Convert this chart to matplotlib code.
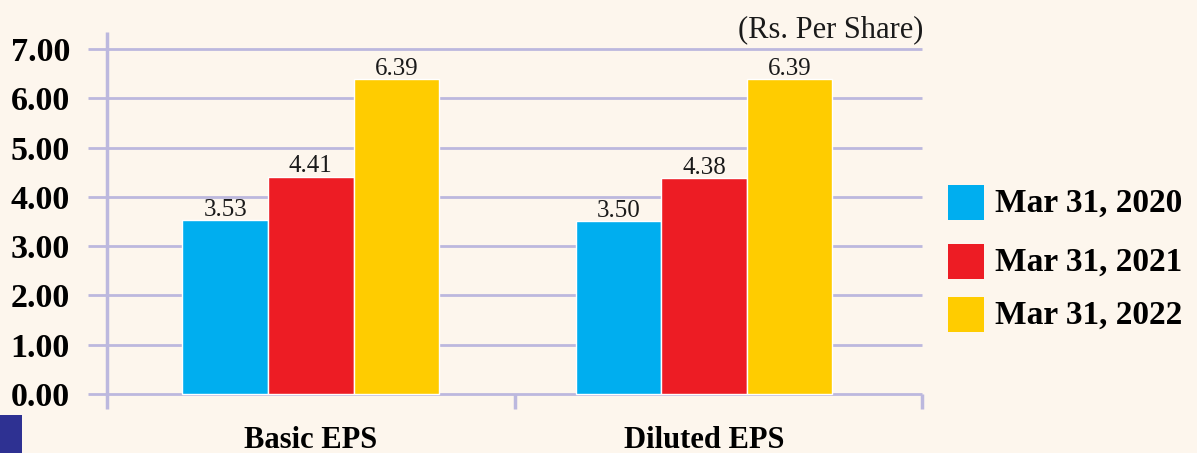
import numpy as np
import matplotlib
matplotlib.use('Agg')
import matplotlib.pyplot as plt
from matplotlib.patches import Rectangle

# data
categories = ['Basic EPS', 'Diluted EPS']
series_names = ['Mar 31, 2020', 'Mar 31, 2021', 'Mar 31, 2022']
eps_2020 = [3.53, 3.50]
eps_2021 = [4.41, 4.38]
eps_2022 = [6.39, 6.39]
y_ticks = [0, 1, 2, 3, 4, 5, 6, 7]

# styling
bg_colour = '#fdf6ed'
grid_colour = '#bcb8de'
bar_colours = ['#00aeef', '#ed1c24', '#ffcc00']
serif = ['Liberation Serif', 'DejaVu Serif']

plt.rcParams['font.family'] = serif

fig_w, fig_h = 1197, 453
fig = plt.figure(figsize=(fig_w / 100, fig_h / 100), dpi=100, facecolor=bg_colour)

# axes placed in pixels: x=0 at px 107, one category band = 407.5 px; y=0 at px 394, 49.3 px per unit
ylim = (-0.4, 7.6)
px_per_y = 49.3
y_zero_px = 394
ax_bottom_px = y_zero_px - ylim[0] * px_per_y
ax_top_px = y_zero_px - ylim[1] * px_per_y
ax_left_px, ax_right_px = 88, 925
band_px = 407.5
xlim = ((ax_left_px - 107) / band_px, (ax_right_px - 107) / band_px)

ax = fig.add_axes([ax_left_px / fig_w, 1 - ax_bottom_px / fig_h,
                   (ax_right_px - ax_left_px) / fig_w, (ax_bottom_px - ax_top_px) / fig_h])
ax.set_facecolor(bg_colour)
ax.set_xlim(xlim)
ax.set_ylim(ylim)
for s in ax.spines.values():
    s.set_visible(False)

# grid lines and axis frame drawn by hand
ax.hlines(y_ticks, xlim[0], 2.0, colors=grid_colour, linewidth=2.0, zorder=1)
ax.vlines(0, -0.30, 7.34, colors=grid_colour, linewidth=2.5, zorder=1)
ax.vlines([1, 2], -0.30, 0, colors=grid_colour, linewidth=2.5, zorder=1)

# bars
group_centres = np.array([0.5, 1.465])
bar_w = 0.21
for i, (vals, col) in enumerate(zip([eps_2020, eps_2021, eps_2022], bar_colours)):
    xs = group_centres + (i - 1) * bar_w
    bars = ax.bar(xs, vals, width=bar_w, color=col, edgecolor='white', linewidth=1.0, zorder=3)
    for x, v in zip(xs, vals):
        ax.annotate(f'{v:.2f}', (x, v), xytext=(0, 3), textcoords='offset points',
                    ha='center', va='baseline', fontsize=18, color='#1a1a1a', zorder=4)

ax.set_xticks([])
ax.set_yticks(y_ticks)
ax.set_yticklabels([f'{t:.2f}' for t in y_ticks], fontsize=24.5, fontweight='bold')
ax.tick_params(axis='y', length=0, pad=13)

for x, name in zip(group_centres, categories):
    ax.text(x, -1.095, name, ha='center', va='baseline', fontsize=22,
            fontweight='bold', clip_on=False)

fig.text(923 / fig_w, 1 - 37 / fig_h, '(Rs. Per Share)', ha='right', va='baseline',
         fontsize=22, color='#1a1a1a')

# legend drawn manually
legend_rows_px = [202.5, 261.5, 314.5]
for name, col, yc in zip(series_names, bar_colours, legend_rows_px):
    fig.patches.append(Rectangle((948 / fig_w, 1 - (yc + 17.5) / fig_h), 36 / fig_w, 35 / fig_h,
                                 transform=fig.transFigure, facecolor=col, edgecolor='none'))
    fig.text(995 / fig_w, 1 - (yc + 9.5) / fig_h, name, ha='left', va='baseline',
             fontsize=24, fontweight='bold')

# dark blue corner block
fig.patches.append(Rectangle((0, 0), 22 / fig_w, 38 / fig_h, transform=fig.transFigure,
                             facecolor='#2e3192', edgecolor='none'))

fig.savefig('out.png', dpi=100, facecolor=bg_colour)
